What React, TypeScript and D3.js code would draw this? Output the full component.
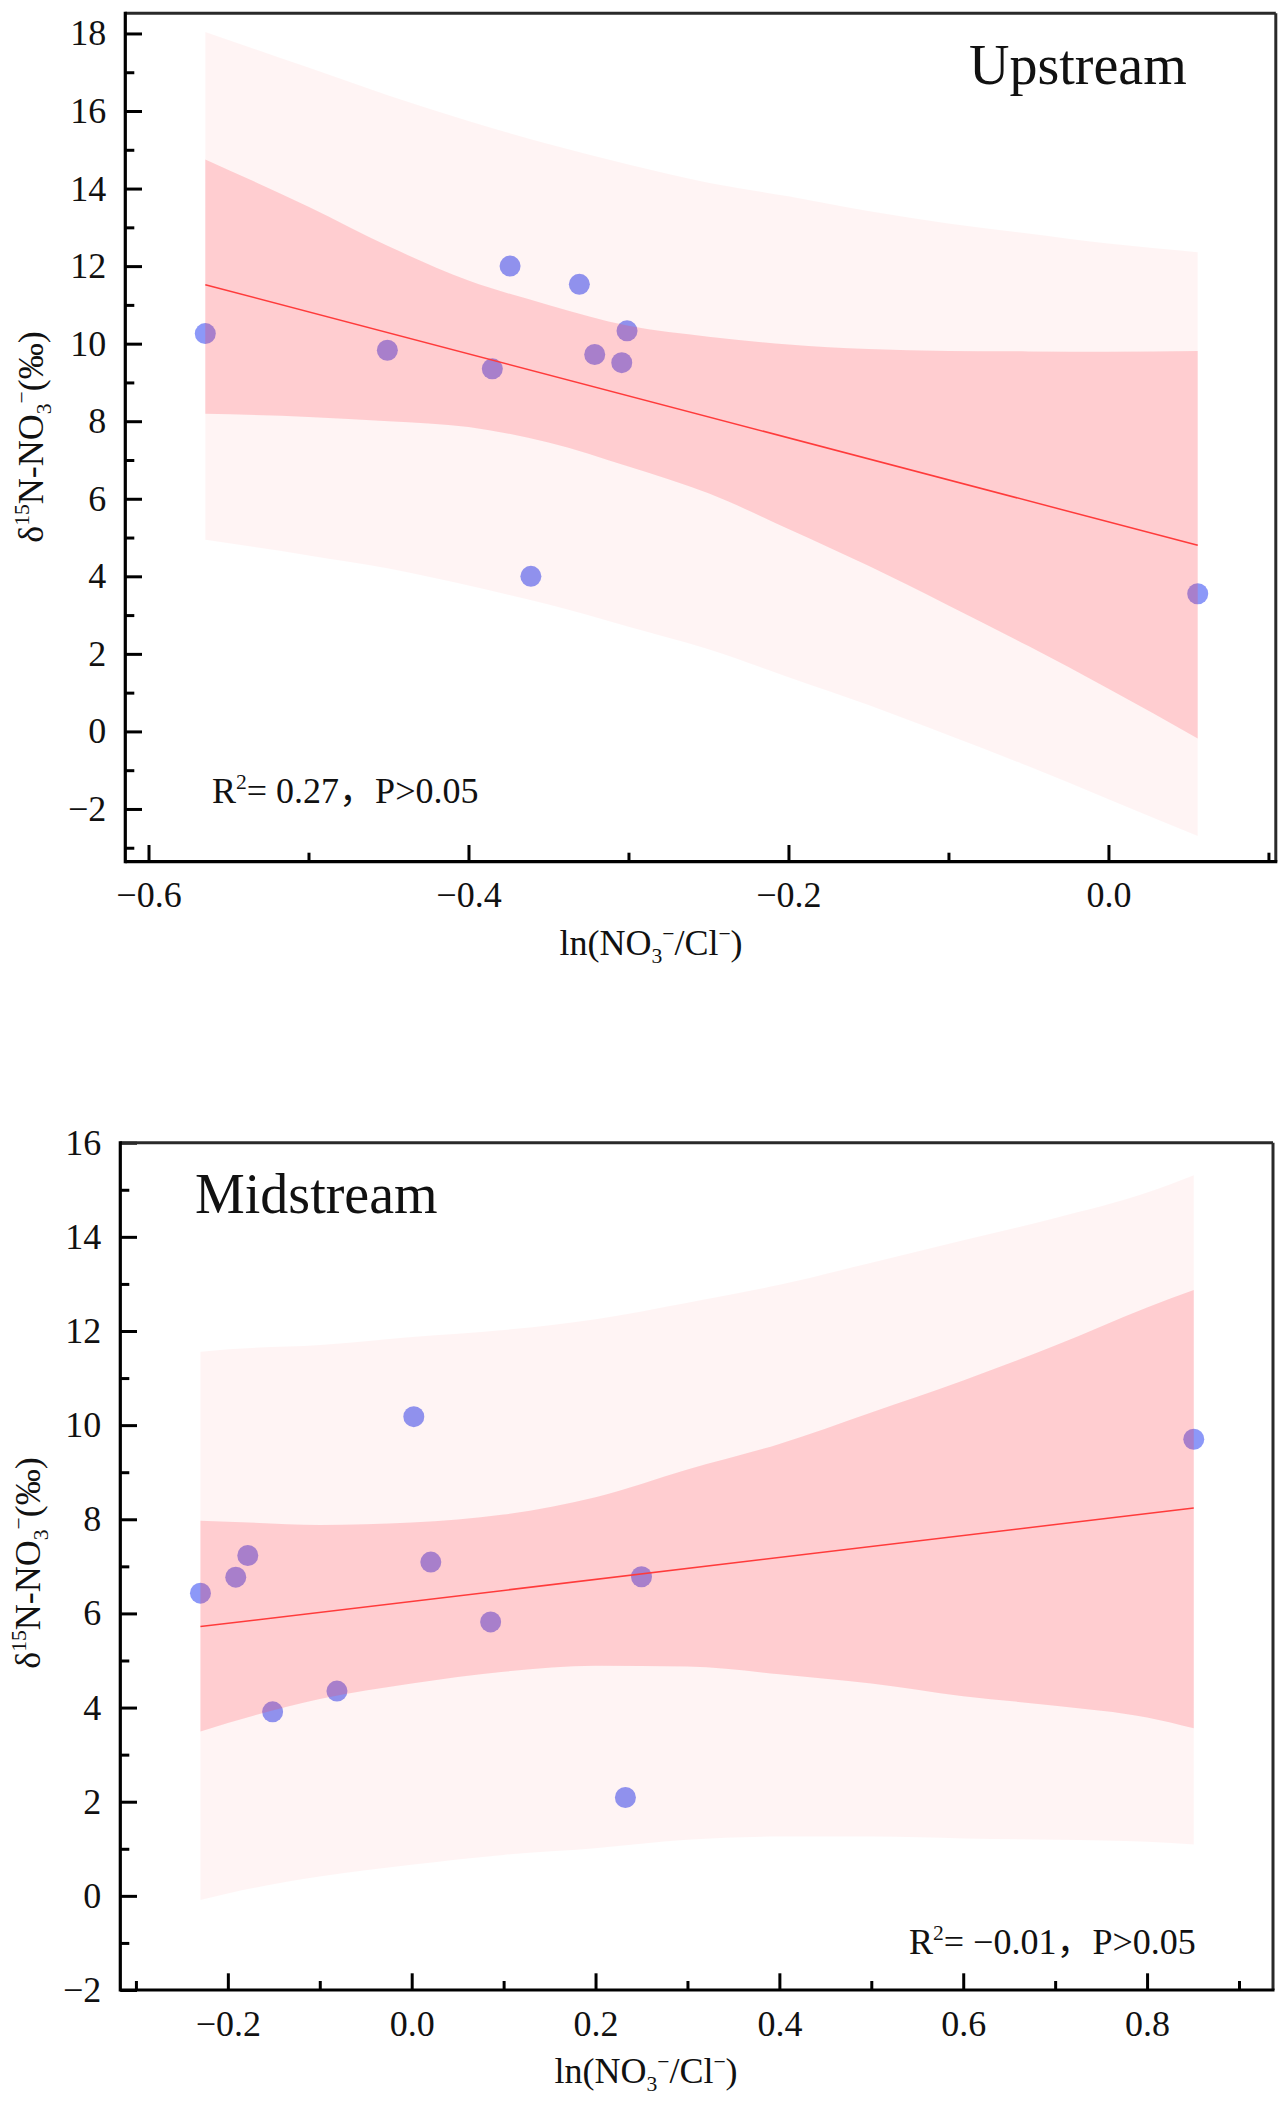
import React, { useRef, useEffect } from 'react';
import * as d3 from 'd3';

// Upstream: measured points
const upX = [-0.5645, -0.4507, -0.3851, -0.374, -0.3307, -0.3211, -0.3042, -0.3009, -0.361, 0.0558];
const upY = [10.26, 9.83, 9.35, 12.0, 11.53, 9.72, 9.51, 10.33, 4.0, 3.55];
// Upstream: fitted line end points
const upFitX = [-0.5645, 0.0558];
const upFitY = [11.52, 4.8];
// Upstream: prediction band (outer) and confidence band (inner)
const upBandX = [-0.5645, -0.5, -0.45, -0.4, -0.35, -0.3, -0.25, -0.2, -0.15, -0.1, -0.05, 0.0, 0.0558];
const upPredHi = [18.04, 17.12, 16.4, 15.74, 15.15, 14.62, 14.15, 13.8, 13.42, 13.1, 12.84, 12.58, 12.36];
const upConfHi = [14.75, 13.53, 12.51, 11.63, 11.0, 10.46, 10.18, 9.98, 9.86, 9.81, 9.8, 9.79, 9.81];
const upConfLo = [8.19, 8.11, 8.0, 7.85, 7.45, 6.83, 6.14, 5.22, 4.27, 3.25, 2.2, 1.1, -0.18];
const upPredLo = [4.94, 4.54, 4.2, 3.76, 3.27, 2.7, 2.12, 1.4, 0.68, -0.1, -0.9, -1.75, -2.7];
const upXMajor = [-0.6, -0.4, -0.2, 0.0];
const upXMinor = [-0.5, -0.3, -0.1, 0.1];
const upYMajor = [-2, 0, 2, 4, 6, 8, 10, 12, 14, 16, 18];
const upYMinor = [-3, -1, 1, 3, 5, 7, 9, 11, 13, 15, 17];

// Midstream: measured points
const midX = [-0.2298, -0.1914, -0.1783, -0.1513, -0.0813, 0.0023, 0.0208, 0.0859, 0.2325, 0.25, 0.8508];
const midY = [6.43, 6.77, 7.23, 3.91, 4.35, 10.18, 7.09, 5.82, 2.09, 6.78, 9.7];
const midFitX = [-0.2298, 0.8508];
const midFitY = [5.72, 8.24];
const midBandX = [-0.2298, -0.2, -0.1, 0.0, 0.1, 0.2, 0.3, 0.4, 0.5, 0.6, 0.7, 0.8, 0.8508];
const midPredHi = [11.56, 11.61, 11.7, 11.87, 12.02, 12.25, 12.6, 12.98, 13.45, 13.93, 14.4, 14.94, 15.31];
const midConfHi = [7.97, 7.95, 7.88, 7.93, 8.1, 8.47, 9.06, 9.6, 10.27, 10.95, 11.69, 12.5, 12.87];
const midConfLo = [3.49, 3.67, 4.18, 4.51, 4.76, 4.89, 4.87, 4.71, 4.51, 4.24, 4.04, 3.79, 3.56];
const midPredLo = [-0.09, 0.05, 0.41, 0.66, 0.87, 1.01, 1.19, 1.26, 1.26, 1.22, 1.19, 1.15, 1.09];
const midXMajor = [-0.2, 0.0, 0.2, 0.4, 0.6, 0.8];
const midXMinor = [-0.3, -0.1, 0.1, 0.3, 0.5, 0.7, 0.9];
const midYMajor = [-2, 0, 2, 4, 6, 8, 10, 12, 14, 16];
const midYMinor = [-1, 1, 3, 5, 7, 9, 11, 13, 15];

const FONT = "'Liberation Serif', 'Noto Sans CJK SC', serif";

type Seg = { t: string; s?: 'sup' | 'sub' };

// append text pieces with super/subscripts as tspans
function rich(text: any, segs: Seg[], size: number) {
  let shift = 0;
  segs.forEach(seg => {
    const target = seg.s === 'sup' ? -0.4 * size : seg.s === 'sub' ? 0.22 * size : 0;
    text.append('tspan')
      .attr('dy', target - shift)
      .style('font-size', `${seg.s ? size * 0.6 : size}px`)
      .text(seg.t);
    shift = target;
  });
}

const xLabel: Seg[] = [{ t: 'ln(NO' }, { t: '3', s: 'sub' }, { t: '−', s: 'sup' }, { t: '/Cl' }, { t: '−', s: 'sup' }, { t: ')' }];
const yLabel: Seg[] = [{ t: 'δ' }, { t: '15', s: 'sup' }, { t: 'N-NO' }, { t: '3', s: 'sub' }, { t: '−', s: 'sup' }, { t: '(‰)' }];

const panels = [
  {
    px: upX, py: upY, fitX: upFitX, fitY: upFitY,
    bandX: upBandX, predHi: upPredHi, confHi: upConfHi, confLo: upConfLo, predLo: upPredLo,
    xMajor: upXMajor, xMinor: upXMinor, yMajor: upYMajor, yMinor: upYMinor,
    xDomain: [-0.6145, 0.1046], yDomain: [-3.36, 18.52],
    left: 125.3, right: 1275.8, top: 13.3, bottom: 861.7,
    title: 'Upstream', titleX: 969, titleY: 84,
    stat: [{ t: 'R' }, { t: '2', s: 'sup' }, { t: '= 0.27，P>0.05' }] as Seg[], statX: 212, statY: 803,
    xLabX: 651, xLabY: 955, yLabX: 43, yLabY: 437,
  },
  {
    px: midX, py: midY, fitX: midFitX, fitY: midFitY,
    bandX: midBandX, predHi: midPredHi, confHi: midConfHi, confLo: midConfLo, predLo: midPredLo,
    xMajor: midXMajor, xMinor: midXMinor, yMajor: midYMajor, yMinor: midYMinor,
    xDomain: [-0.317, 0.937], yDomain: [-2, 16],
    left: 120.3, right: 1273, top: 1142.7, bottom: 1990,
    title: 'Midstream', titleX: 195, titleY: 1213,
    stat: [{ t: 'R' }, { t: '2', s: 'sup' }, { t: '= −0.01，P>0.05' }] as Seg[], statX: 909, statY: 1954,
    xLabX: 646, xLabY: 2083, yLabX: 40, yLabY: 1563,
  },
];

const App: React.FC = () => {
  const svgRef = useRef<SVGSVGElement | null>(null);

  useEffect(() => {
    const svg = d3.select(svgRef.current);
    svg.selectAll('*').remove();

    panels.forEach(p => {
      const g = svg.append('g');
      const x = d3.scaleLinear().domain(p.xDomain).range([p.left, p.right]);
      const y = d3.scaleLinear().domain(p.yDomain).range([p.bottom, p.top]);

      // points sit under the translucent bands
      g.append('g')
        .selectAll('circle')
        .data(p.px.map((v, i) => [v, p.py[i]]))
        .enter()
        .append('circle')
        .attr('cx', d => x(d[0]))
        .attr('cy', d => y(d[1]))
        .attr('r', 10.5)
        .attr('fill', '#8c98f8');

      const idx = p.bandX.map((_, i) => i);
      const pred = d3.area<number>()
        .x(i => x(p.bandX[i]))
        .y0(i => y(p.predLo[i]))
        .y1(i => y(p.predHi[i]))
        .curve(d3.curveMonotoneX);
      const conf = d3.area<number>()
        .x(i => x(p.bandX[i]))
        .y0(i => y(p.confLo[i]))
        .y1(i => y(p.confHi[i]))
        .curve(d3.curveMonotoneX);

      g.append('path').attr('d', pred(idx)).attr('fill', '#ff0000').attr('fill-opacity', 0.045);
      g.append('path').attr('d', conf(idx)).attr('fill', '#ff4050').attr('fill-opacity', 0.214);

      const line = d3.line<number>().x(i => x(p.fitX[i])).y(i => y(p.fitY[i]));
      g.append('path')
        .attr('d', line([0, 1]))
        .attr('fill', 'none')
        .attr('stroke', '#ff3b3b')
        .attr('stroke-width', 1.5);

      // axes with inward ticks
      const fmtX = d3.format('.1f');
      const xAx = g.append('g').attr('transform', `translate(0,${p.bottom})`)
        .call(d3.axisBottom(x).tickValues(p.xMajor).tickSize(-16.7).tickSizeOuter(0).tickPadding(20).tickFormat(d => fmtX(d as number)));
      const xMin = g.append('g').attr('transform', `translate(0,${p.bottom})`)
        .call(d3.axisBottom(x).tickValues(p.xMinor).tickSize(-9).tickSizeOuter(0).tickFormat(() => ''));
      const yAx = g.append('g').attr('transform', `translate(${p.left},0)`)
        .call(d3.axisLeft(y).tickValues(p.yMajor).tickSize(-16.7).tickSizeOuter(0).tickPadding(19).tickFormat(d3.format('d') as any));
      const yMin = g.append('g').attr('transform', `translate(${p.left},0)`)
        .call(d3.axisLeft(y).tickValues(p.yMinor).tickSize(-9).tickSizeOuter(0).tickFormat(() => ''));

      [xAx, xMin, yAx, yMin].forEach(a => {
        a.attr('font-family', FONT);
        a.select('.domain').remove();
        a.selectAll('line').attr('stroke', '#000').attr('stroke-width', 3);
        a.selectAll('text')
          .attr('fill', '#111')
          .style('font-family', FONT)
          .style('font-size', '36px');
      });

      // frame
      g.append('line').attr('x1', p.left).attr('x2', p.right).attr('y1', p.top).attr('y2', p.top)
        .attr('stroke', '#2a2a2a').attr('stroke-width', 3);
      g.append('line').attr('x1', p.right).attr('x2', p.right).attr('y1', p.top).attr('y2', p.bottom)
        .attr('stroke', '#2a2a2a').attr('stroke-width', 3);
      g.append('line').attr('x1', p.left).attr('x2', p.left).attr('y1', p.top - 1.5).attr('y2', p.bottom + 1.5)
        .attr('stroke', '#000').attr('stroke-width', 3.2);
      g.append('line').attr('x1', p.left).attr('x2', p.right + 1.5).attr('y1', p.bottom).attr('y2', p.bottom)
        .attr('stroke', '#000').attr('stroke-width', 3.2);

      // panel title
      g.append('text')
        .attr('x', p.titleX)
        .attr('y', p.titleY)
        .style('font-family', FONT)
        .style('font-size', '56px')
        .attr('fill', '#111')
        .text(p.title);

      // regression statistics
      const st = g.append('text')
        .attr('x', p.statX)
        .attr('y', p.statY)
        .style('font-family', FONT)
        .attr('fill', '#111');
      rich(st, p.stat, 36);

      // x axis title
      const xt = g.append('text')
        .attr('x', p.xLabX)
        .attr('y', p.xLabY)
        .attr('text-anchor', 'middle')
        .style('font-family', FONT)
        .attr('fill', '#111');
      rich(xt, xLabel, 36);

      // y axis title
      const yt = g.append('text')
        .attr('transform', `translate(${p.yLabX},${p.yLabY}) rotate(-90)`)
        .attr('text-anchor', 'middle')
        .style('font-family', FONT)
        .attr('fill', '#111');
      rich(yt, yLabel, 36);
    });
  }, []);

  return (
    <svg
      ref={svgRef}
      width={1287}
      height={2106}
      style={{ position: 'absolute', left: 0, top: 0, background: '#fff' }}
    />
  );
};

export default App;
